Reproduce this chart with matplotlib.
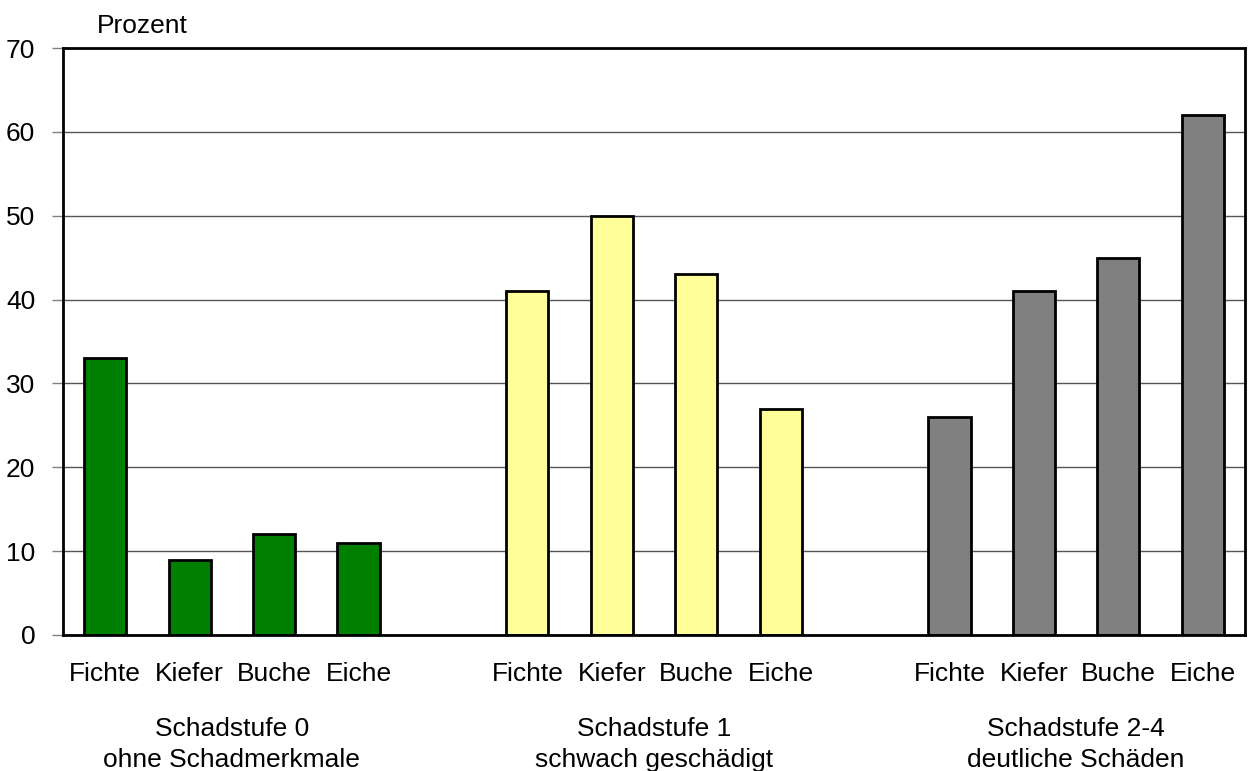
import numpy as np
import matplotlib
matplotlib.use('Agg')
import matplotlib.pyplot as plt
from matplotlib.transforms import blended_transform_factory

plt.rcParams['font.family'] = ['Liberation Sans', 'DejaVu Sans']

# data
species = ['Fichte', 'Kiefer', 'Buche', 'Eiche']
groups = ['Schadstufe 0\nohne Schadmerkmale',
          'Schadstufe 1\nschwach geschädigt',
          'Schadstufe 2-4\ndeutliche Schäden']
stufe0 = [33, 9, 12, 11]
stufe1 = [41, 50, 43, 27]
stufe24 = [26, 41, 45, 62]
colors = ['#008000', '#FFFF99', '#808080']

fs = 19

fig = plt.figure(figsize=(12.52, 7.71), dpi=100)
ax = fig.add_axes([0.0503, 0.1764, 0.9441, 0.7613])

xpos_all = []
labels_all = []
trans = blended_transform_factory(ax.transData, ax.transAxes)
for g, (vals, col) in enumerate(zip([stufe0, stufe1, stufe24], colors)):
    x = np.arange(len(species)) + g * 5
    ax.bar(x, vals, width=0.5, color=col, edgecolor='black', linewidth=2, zorder=3)
    xpos_all.extend(x)
    labels_all.extend(species)
    ax.text(x.mean(), -0.140, groups[g], transform=trans, ha='center', va='top',
            fontsize=fs, linespacing=1.37)

ax.set_xlim(-0.5, 13.5)
ax.set_ylim(0, 70)
ax.set_yticks(range(0, 71, 10))
ax.set_xticks(xpos_all)
ax.set_xticklabels(labels_all)
ax.tick_params(axis='x', length=0, pad=19.5, labelsize=fs)
ax.tick_params(axis='y', length=8, width=1, color='#808080', pad=12, labelsize=fs)
ax.yaxis.grid(True, color='#555555', linewidth=1, zorder=0)
for s in ax.spines.values():
    s.set_linewidth(2)
    s.set_color('black')
    s.set_zorder(4)

ax.text(0.029, 1.026, 'Prozent', transform=ax.transAxes, fontsize=fs, ha='left', va='baseline')

fig.savefig('out.png', dpi=100)
